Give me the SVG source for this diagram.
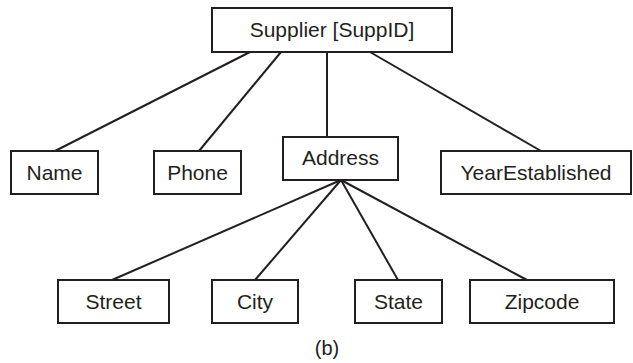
<svg xmlns="http://www.w3.org/2000/svg" width="633" height="363" viewBox="0 0 633 363">
<style>
rect{fill:#fff;stroke:#231f20;stroke-width:2}
text{font-family:"Liberation Sans",Arial,sans-serif;font-size:21px;fill:#231f20;text-anchor:middle}
#connectors line{stroke:#231f20;stroke-width:2}
</style>
<rect x="0" y="0" width="633" height="363" style="stroke:none"/>
<g id="connectors">
<line x1="250" y1="52" x2="55" y2="151"/>
<line x1="281" y1="52" x2="199" y2="151"/>
<line x1="327" y1="52" x2="327" y2="137"/>
<line x1="370" y1="52" x2="541" y2="151"/>
<line x1="341" y1="180" x2="112" y2="280"/>
<line x1="341" y1="180" x2="255" y2="280"/>
<line x1="341" y1="180" x2="398" y2="280"/>
<line x1="341" y1="180" x2="527" y2="280"/>
</g>
<g id="supplier"><rect x="212" y="8" width="240" height="44"/><text x="332" y="37">Supplier [SuppID]</text></g>
<g id="name"><rect x="11" y="151" width="87" height="43"/><text x="54.5" y="180">Name</text></g>
<g id="phone"><rect x="154" y="151" width="87" height="43"/><text x="197.5" y="180">Phone</text></g>
<g id="address"><rect x="283" y="137" width="115" height="43"/><text x="340.5" y="165">Address</text></g>
<g id="yearestablished"><rect x="441" y="151" width="190" height="43"/><text x="536" y="180">YearEstablished</text></g>
<g id="street"><rect x="58" y="280" width="111" height="43"/><text x="113.5" y="309">Street</text></g>
<g id="city"><rect x="212" y="280" width="86" height="43"/><text x="255" y="309">City</text></g>
<g id="state"><rect x="355" y="280" width="87" height="43"/><text x="398.5" y="309">State</text></g>
<g id="zipcode"><rect x="470" y="280" width="144" height="43"/><text x="542" y="309">Zipcode</text></g>
<text x="327" y="355" style="font-size:20px">(b)</text>
</svg>
